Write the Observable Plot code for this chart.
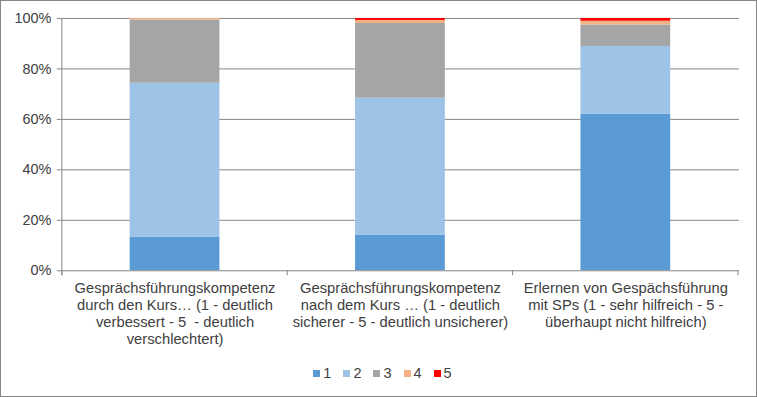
<!DOCTYPE html>
<html>
<head>
<meta charset="utf-8">
<script src="https://cdn.jsdelivr.net/npm/d3@7"></script>
<script src="https://cdn.jsdelivr.net/npm/@observablehq/plot@0.6"></script>
<style>
  html, body { margin: 0; padding: 0; background: #fff; }
  #wrap { width: 757px; height: 397px; box-sizing: border-box; border: 1px solid #868686; position: relative; overflow: hidden; font-family: "Liberation Sans", Arial, sans-serif; }
  #chart svg { display: block; position: absolute; left: -1px; top: -1px; }
  #legend { position: absolute; left: 0; right: 0; top: 364px; display: flex; justify-content: center; gap: 12px; font-size: 14.5px; color: #404040; padding-left: 8px; }
  .item { display: flex; align-items: center; gap: 3px; }
  .sw { width: 7px; height: 7px; display: inline-block; }
</style>
</head>
<body>
<div id="wrap"><div id="chart"></div><div id="legend"></div></div>
<script>
const categories = ["A", "B", "C"];
const xLabels = [
  "Gesprächsführungskompetenz\ndurch den Kurs… (1 - deutlich\nverbessert - 5  - deutlich\nverschlechtert)",
  "Gesprächsführungskompetenz\nnach dem Kurs … (1 - deutlich\nsicherer - 5 - deutlich unsicherer)",
  "Erlernen von Gespächsführung\nmit SPs (1 - sehr hilfreich - 5 -\nüberhaupt nicht hilfreich)"
];
const ratings = ["1", "2", "3", "4", "5"];
const rating1 = [13.4, 14.2, 62.1];
const rating2 = [60.9, 54.2, 26.8];
const rating3 = [25.1, 29.6, 8.5];
const rating4 = [0.6, 1.2, 1.5];
const rating5 = [0.0, 0.8, 1.1];
const colors = ["#5b9bd5", "#9dc3e6", "#a5a5a5", "#f4b183", "#ff0000"];
const yTicks = [0, 20, 40, 60, 80, 100];

const series = [rating1, rating2, rating3, rating4, rating5];
const data = [];
ratings.forEach((r, i) => categories.forEach((c, j) => data.push({category: c, rating: r, value: series[i][j]})));

const W = 757, H = 355;
const chart = Plot.plot({
  width: W, height: H,
  marginLeft: 62, marginRight: 16, marginTop: 18, marginBottom: 84,
  style: {fontFamily: "'Liberation Sans', Arial, sans-serif", fontSize: "14.5px", color: "#404040", background: "transparent"},
  x: {domain: categories, paddingInner: 0.6, paddingOuter: 0.3, label: null},
  y: {domain: [0, 100], label: null},
  color: {domain: ratings, range: colors},
  marks: [
    Plot.ruleY(yTicks.slice(1), {stroke: "#868686", strokeWidth: 1}),
    Plot.barY(data, {x: "category", y: "value", fill: "rating", order: ratings, inset: 0}),
    Plot.ruleY([0], {stroke: "#868686"}),
    Plot.axisY({ticks: yTicks, tickFormat: d => d + "%", tickSize: 5, tickPadding: 6, stroke: "#868686", fill: "#404040", fontSize: 14.5}),
    Plot.axisX({tickSize: 0, tickPadding: 10, tickFormat: d => xLabels[categories.indexOf(d)], lineHeight: 1.16, fill: "#404040", fontSize: 14.8})
  ]
});
document.getElementById("chart").appendChild(chart);

// axis line and category separators from the scales
const xs = chart.scale("x"), ys = chart.scale("y");
const svg = d3.select(chart);
const y0 = ys.apply(0), y100 = ys.apply(100);
const gap = (xs.step - xs.bandwidth) / 2;
const bounds = categories.map(c => xs.apply(c) - gap);
bounds.push(xs.apply(categories[categories.length - 1]) + xs.bandwidth + gap);
const g = svg.append("g").attr("stroke", "#868686");
g.append("line").attr("x1", bounds[0]).attr("x2", bounds[0]).attr("y1", y100).attr("y2", y0 + 5);
bounds.forEach(b => g.append("line").attr("x1", b).attr("x2", b).attr("y1", y0).attr("y2", y0 + 5));

const legend = d3.select("#legend");
ratings.forEach((r, i) => {
  const it = legend.append("div").attr("class", "item");
  it.append("span").attr("class", "sw").style("background", colors[i]);
  it.append("span").text(r);
});
</script>
</body>
</html>
